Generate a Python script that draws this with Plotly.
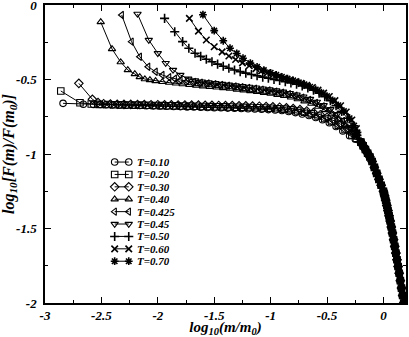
import plotly.graph_objects as go

# log10(m/m0) and log10[F(m)/F(m0)], one list pair per temperature
x_t010 = [-2.84, -2.66, -2.57, -2.51, -2.46, -2.40, -2.34, -2.28, -2.22, -2.16, -2.10, -2.04, -1.98, -1.92,
          -1.86, -1.80, -1.74, -1.68, -1.62, -1.56, -1.50, -1.44, -1.38, -1.32, -1.26, -1.20, -1.14, -1.08,
          -1.02, -0.96, -0.90, -0.84, -0.78, -0.72, -0.66, -0.60, -0.54, -0.48, -0.42, -0.36, -0.30, -0.25]
y_t010 = [-0.660, -0.666, -0.667, -0.668, -0.669, -0.670, -0.671, -0.672, -0.673, -0.674, -0.676, -0.677,
          -0.678, -0.680, -0.681, -0.682, -0.684, -0.685, -0.686, -0.688, -0.689, -0.690, -0.692, -0.693,
          -0.695, -0.696, -0.698, -0.700, -0.702, -0.705, -0.708, -0.715, -0.722, -0.732, -0.742, -0.755,
          -0.770, -0.790, -0.815, -0.845, -0.878, -0.900]

x_t020 = [-2.86, -2.69, -2.59, -2.52, -2.44, -2.38, -2.32, -2.26, -2.20, -2.14, -2.08, -2.02, -1.96, -1.90,
          -1.84, -1.78, -1.72, -1.66, -1.60, -1.54, -1.48, -1.42, -1.36, -1.30, -1.24, -1.18, -1.12, -1.06,
          -1.00, -0.94, -0.88, -0.82, -0.76, -0.70, -0.64, -0.58, -0.52, -0.46, -0.40, -0.34, -0.28, -0.24]
y_t020 = [-0.577, -0.656, -0.664, -0.667, -0.668, -0.669, -0.670, -0.671, -0.672, -0.672, -0.673, -0.674,
          -0.675, -0.676, -0.677, -0.678, -0.679, -0.680, -0.681, -0.682, -0.683, -0.684, -0.685, -0.686,
          -0.687, -0.688, -0.690, -0.691, -0.693, -0.696, -0.699, -0.704, -0.711, -0.720, -0.731, -0.745,
          -0.762, -0.782, -0.806, -0.836, -0.872, -0.895]

x_t030 = [-2.70, -2.58, -2.53, -2.48, -2.42, -2.36, -2.30, -2.24, -2.18, -2.12, -2.06, -2.00, -1.94, -1.88,
          -1.82, -1.76, -1.70, -1.64, -1.58, -1.52, -1.46, -1.40, -1.34, -1.28, -1.22, -1.16, -1.10, -1.04,
          -0.98, -0.92, -0.86, -0.80, -0.74, -0.68, -0.62, -0.56, -0.50, -0.44, -0.38, -0.32, -0.26]
y_t030 = [-0.526, -0.633, -0.655, -0.662, -0.665, -0.666, -0.667, -0.667, -0.668, -0.668, -0.669, -0.669,
          -0.670, -0.670, -0.671, -0.671, -0.672, -0.672, -0.673, -0.673, -0.674, -0.675, -0.675, -0.676,
          -0.677, -0.678, -0.679, -0.681, -0.683, -0.686, -0.690, -0.695, -0.702, -0.711, -0.722, -0.736,
          -0.753, -0.774, -0.800, -0.831, -0.868]

x_t040 = [-2.506, -2.406, -2.329, -2.266, -2.204, -2.16, -2.115, -2.07, -2.02, -1.96, -1.90, -1.84, -1.78,
          -1.72, -1.66, -1.60, -1.54, -1.48, -1.42, -1.36, -1.30, -1.24, -1.18, -1.12, -1.06, -1.00, -0.94,
          -0.88, -0.82, -0.76, -0.70, -0.64, -0.58, -0.52, -0.46, -0.40, -0.34, -0.28, -0.24]
y_t040 = [-0.114, -0.295, -0.383, -0.436, -0.463, -0.483, -0.497, -0.503, -0.510, -0.516, -0.521, -0.526,
          -0.531, -0.536, -0.540, -0.545, -0.549, -0.553, -0.557, -0.561, -0.567, -0.572, -0.577, -0.583,
          -0.589, -0.595, -0.602, -0.610, -0.620, -0.632, -0.646, -0.662, -0.682, -0.705, -0.733, -0.767,
          -0.808, -0.855, -0.890]

x_t0425 = [-2.32, -2.233, -2.16, -2.086, -2.02, -1.96, -1.90, -1.85, -1.80, -1.74, -1.68, -1.62, -1.56,
           -1.50, -1.44, -1.38, -1.32, -1.26, -1.20, -1.14, -1.08, -1.02, -0.96, -0.90, -0.84, -0.78, -0.72,
           -0.66, -0.60, -0.54, -0.48, -0.42, -0.36, -0.30, -0.25]
y_t0425 = [-0.067, -0.246, -0.347, -0.414, -0.448, -0.470, -0.485, -0.495, -0.503, -0.510, -0.516, -0.522,
           -0.527, -0.532, -0.537, -0.542, -0.547, -0.552, -0.557, -0.562, -0.568, -0.574, -0.581, -0.589,
           -0.598, -0.609, -0.622, -0.638, -0.657, -0.680, -0.707, -0.740, -0.779, -0.826, -0.872]

x_t045 = [-2.18, -2.08, -2.00, -1.93, -1.865, -1.80, -1.73, -1.67, -1.61, -1.55, -1.49, -1.43, -1.37, -1.31,
          -1.25, -1.19, -1.13, -1.07, -1.01, -0.95, -0.89, -0.83, -0.77, -0.71, -0.65, -0.59, -0.53, -0.47,
          -0.41, -0.35, -0.29, -0.24]
y_t045 = [-0.060, -0.235, -0.324, -0.390, -0.436, -0.470, -0.495, -0.507, -0.514, -0.520, -0.525, -0.530,
          -0.535, -0.540, -0.545, -0.550, -0.555, -0.561, -0.567, -0.574, -0.582, -0.591, -0.602, -0.615,
          -0.631, -0.650, -0.673, -0.700, -0.733, -0.773, -0.822, -0.870]

x_t050 = [-1.94, -1.85, -1.78, -1.725, -1.67, -1.62, -1.57, -1.52, -1.47, -1.42, -1.37, -1.32, -1.27, -1.22,
          -1.17, -1.12, -1.07, -1.02, -0.97, -0.92, -0.87, -0.82, -0.77, -0.72, -0.67, -0.62, -0.57, -0.52,
          -0.47, -0.42, -0.37, -0.32, -0.27, -0.235]
y_t050 = [-0.090, -0.180, -0.246, -0.290, -0.324, -0.345, -0.364, -0.381, -0.397, -0.411, -0.424, -0.436,
          -0.447, -0.457, -0.466, -0.475, -0.484, -0.492, -0.500, -0.507, -0.515, -0.523, -0.532, -0.543,
          -0.556, -0.572, -0.592, -0.615, -0.643, -0.676, -0.714, -0.760, -0.820, -0.875]

x_t060 = [-1.72, -1.64, -1.57, -1.50, -1.43, -1.37, -1.31, -1.25, -1.19, -1.13, -1.08, -1.03, -0.98, -0.93,
          -0.88, -0.83, -0.78, -0.73, -0.68, -0.63, -0.58, -0.53, -0.48, -0.43, -0.38, -0.33, -0.28, -0.24]
y_t060 = [-0.090, -0.175, -0.235, -0.280, -0.315, -0.342, -0.366, -0.388, -0.408, -0.427, -0.442, -0.456,
          -0.469, -0.481, -0.492, -0.503, -0.514, -0.526, -0.539, -0.554, -0.571, -0.591, -0.614, -0.642,
          -0.676, -0.718, -0.772, -0.830]

x_t070 = [-1.60, -1.50, -1.42, -1.36, -1.30, -1.245, -1.18, -1.12, -1.06, -1.00, -0.95, -0.90, -0.85, -0.80,
          -0.75, -0.70, -0.65, -0.60, -0.55, -0.50, -0.45, -0.40, -0.35, -0.30, -0.26, -0.23]
y_t070 = [-0.065, -0.172, -0.240, -0.290, -0.325, -0.357, -0.390, -0.415, -0.437, -0.455, -0.469, -0.482,
          -0.494, -0.506, -0.519, -0.533, -0.549, -0.567, -0.588, -0.612, -0.640, -0.673, -0.712, -0.760,
          -0.810, -0.855]

# all curves collapse onto the same steep tail near m ~ m0
x_tail = [-0.20, -0.18, -0.16, -0.14, -0.12, -0.10, -0.08, -0.06, -0.04, -0.02, 0.00, 0.01, 0.02, 0.03,
          0.04, 0.05, 0.06, 0.07, 0.08, 0.09, 0.10, 0.11, 0.12, 0.13, 0.14, 0.15, 0.16, 0.17, 0.18, 0.19]
y_tail = [-0.92, -0.945, -0.97, -0.995, -1.02, -1.05, -1.09, -1.13, -1.17, -1.21, -1.25, -1.28, -1.31,
          -1.345, -1.38, -1.415, -1.45, -1.49, -1.53, -1.575, -1.62, -1.665, -1.71, -1.755, -1.80, -1.85,
          -1.90, -1.95, -2.00, -2.05]

labels = ["T=0.10", "T=0.20", "T=0.30", "T=0.40", "T=0.425", "T=0.45", "T=0.50", "T=0.60", "T=0.70"]
xs = [x_t010, x_t020, x_t030, x_t040, x_t0425, x_t045, x_t050, x_t060, x_t070]
ys = [y_t010, y_t020, y_t030, y_t040, y_t0425, y_t045, y_t050, y_t060, y_t070]
symbols = ["circle-open", "square-open", "diamond-open", "triangle-up-open", "triangle-left-open",
           "triangle-down-open", "cross-thin-open", "x-thin-open", "asterisk-open"]

x_ticks = [-3, -2.5, -2, -1.5, -1, -0.5, 0]
x_ticktext = ["-3", "-2.5", "-2", "-1.5", "-1", "-0.5", "0"]
y_ticks = [0, -0.5, -1, -1.5, -2]
y_ticktext = ["0", "-0.5", "-1", "-1.5", "-2"]

font_bi = dict(family="Liberation Serif", color="black", weight="bold", style="italic")

fig = go.Figure()
for lab, xv, yv, sym in zip(labels, xs, ys, symbols):
    lw = 1.6 if sym in ("cross-thin-open", "x-thin-open", "asterisk-open") else 1.1
    fig.add_trace(go.Scatter(
        x=xv + x_tail, y=yv + y_tail, mode="lines+markers", name=lab, showlegend=False,
        line=dict(color="black", width=1),
        marker=dict(symbol=sym, size=6.5, color="black", line=dict(color="black", width=lw)),
    ))

# hand-drawn legend (marker-line-marker) on a hidden 0..1 overlay axis
leg_x = [0.193, 0.232]
for i, (lab, sym) in enumerate(zip(labels, symbols)):
    yy = 0.473 - 0.0416 * i
    lw = 1.6 if sym in ("cross-thin-open", "x-thin-open", "asterisk-open") else 1.1
    fig.add_trace(go.Scatter(
        x=leg_x, y=[yy, yy], xaxis="x2", yaxis="y2", mode="lines+markers", showlegend=False,
        line=dict(color="black", width=1), hoverinfo="skip",
        marker=dict(symbol=sym, size=6.5, color="black", line=dict(color="black", width=lw)),
    ))
    fig.add_annotation(x=0.253, y=yy, xref="paper", yref="paper", text=lab, showarrow=False,
                       xanchor="left", yanchor="middle", height=12, borderpad=0,
                       font=dict(font_bi, size=11))

axis_common = dict(
    showline=True, linecolor="black", linewidth=1.5, mirror="ticks", showgrid=False, zeroline=False,
    ticks="inside", ticklen=6, tickwidth=1, tickcolor="black", automargin=False,
    ticklabeloverflow="allow", tickfont=dict(font_bi, size=13),
)
fig.update_layout(
    width=409, height=337,
    margin=dict(l=45, r=3, t=5, b=34),
    plot_bgcolor="white", paper_bgcolor="white",
    xaxis=dict(axis_common, range=[-3, 0.2], tickmode="array", tickvals=x_ticks, ticktext=x_ticktext,
               minor=dict(tick0=-3, dtick=0.25, ticks="inside", ticklen=3, tickcolor="black"),
               title=dict(text="log<sub>10</sub>(m/m<sub>0</sub>)", font=dict(font_bi, size=15), standoff=2)),
    yaxis=dict(axis_common, range=[-2, 0], tickmode="array", tickvals=y_ticks, ticktext=y_ticktext,
               ticklabelstandoff=4,
               minor=dict(tick0=-2, dtick=0.25, ticks="inside", ticklen=3, tickcolor="black"),
               title=dict(text="log<sub>10</sub>[F(m)/F(m<sub>0</sub>)]", font=dict(font_bi, size=16), standoff=2)),
    xaxis2=dict(overlaying="x", range=[0, 1], visible=False),
    yaxis2=dict(overlaying="y", range=[0, 1], visible=False),
)

# the page body has a default margin; drop it so the 409x337 figure fills the window
fig.write_html("out.html", config={"displayModeBar": False},
               post_script="document.body.style.margin='0';")
